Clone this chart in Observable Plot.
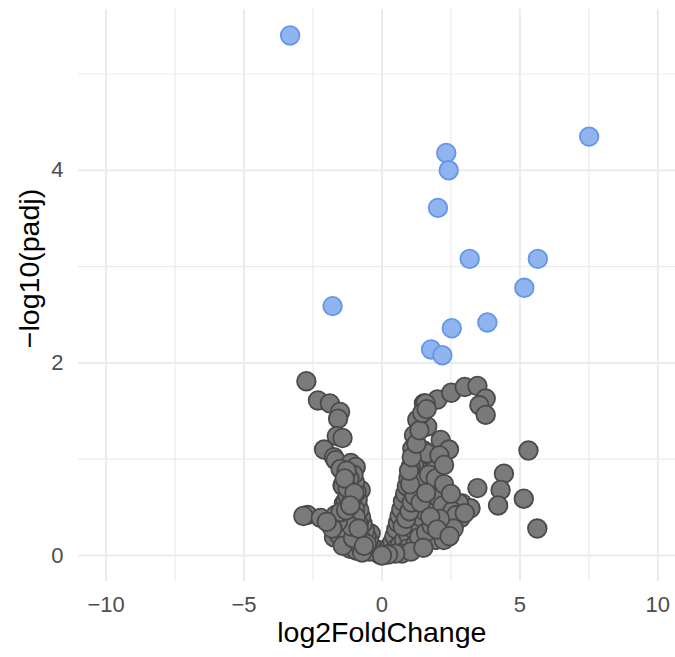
<!DOCTYPE html>
<html><head><meta charset="utf-8">
<script src="https://cdn.jsdelivr.net/npm/d3@7"></script>
<script src="https://cdn.jsdelivr.net/npm/@observablehq/plot@0.6"></script>
<style>html,body{margin:0;padding:0;background:#fff}</style>
</head><body><div id="chart"></div>
<script>
// Non-significant genes (grey)
const greyLog2FC = [
-2.74,-2.32,-1.89,-1.52,-1.59,-1.64,-1.43,-2.10,-1.74,-1.68,-1.13,-0.95,-1.50,-1.43,-1.07,-0.77,-1.38,-0.89,-2.70,-2.85,-2.22,-1.68,-1.86,-1.62,-1.13,-1.32,-1.01,-0.53,-0.77,-0.41,-1.74,-1.32,-1.41,
1.52,2.01,2.51,3.00,3.46,3.76,3.53,3.76,1.40,1.64,1.16,2.13,2.43,1.10,1.52,1.28,1.88,5.31,4.42,4.30,3.46,4.21,5.14,5.63,2.91,3.21,2.85,1.16,1.88,1.04,1.52,2.01,2.37,2.79,1.88,2.37,2.01,1.16,0.50,-0.17,1.52,0.79,2.01,1.64,1.04,1.28,2.37,1.95,2.24,1.58,
-0.08,-0.18,-0.28,-0.38,-0.48,-0.56,-0.62,-0.70,-0.76,-0.82,-0.88,-0.92,-0.98,-1.03,-0.45,-0.60,-0.68,-0.80,-0.90,-1.00,-1.08,-1.18,-1.24,-1.18,-1.28,-1.35,-1.46,-1.55,-1.25,-1.15,-0.92,-0.72,-1.42,-1.05,-0.98,-1.10,-1.20,-0.85,-0.55,
-1.25,-1.35,-1.00,-0.95,-1.10,-0.65,-1.60,-1.50,-1.80,-2.00,-1.30,-1.15,-0.85,
0.06,0.14,0.22,0.30,0.38,0.45,0.52,0.58,0.64,0.70,0.76,0.84,0.90,0.96,0.35,0.50,0.65,0.80,0.95,1.10,1.25,1.40,1.55,1.70,1.85,2.05,2.20,2.55,2.70,3.00,2.60,0.92,1.20,1.35,1.60,1.80,2.10,0.75,0.88,1.00,1.08,1.18,1.30,1.02,0.98,1.08,1.25,1.36,1.46,1.62,1.70,1.95,2.25,2.50,2.08,2.25,0.72,1.05,1.50,0.48,0.22,0.00,1.40,1.60,1.75,2.00,2.45
];
const greyNegLog10Padj = [
1.81,1.61,1.58,1.49,1.42,1.24,1.22,1.10,1.02,0.99,0.96,0.92,0.90,0.73,0.71,0.68,0.54,0.52,0.42,0.41,0.39,0.42,0.32,0.25,0.25,0.16,0.11,0.06,0.13,0.23,0.19,0.56,0.72,
1.58,1.62,1.69,1.75,1.76,1.63,1.56,1.46,1.41,1.34,1.25,1.20,1.10,1.11,1.09,1.02,0.99,1.09,0.85,0.68,0.70,0.52,0.59,0.28,0.54,0.49,0.39,0.94,0.90,0.66,0.73,0.70,0.59,0.54,0.47,0.37,0.18,0.14,0.06,0.06,0.30,0.44,0.92,1.06,0.92,1.41,0.33,0.16,0.16,1.58,
0.01,0.03,0.06,0.10,0.15,0.20,0.26,0.33,0.40,0.47,0.58,0.66,0.76,0.84,0.04,0.08,0.14,0.19,0.26,0.34,0.42,0.48,0.62,0.80,0.88,0.36,0.30,0.21,0.22,0.07,0.05,0.03,0.10,0.18,0.48,0.58,0.35,0.33,0.12,
0.70,0.80,0.65,0.40,0.30,0.10,0.35,0.45,0.28,0.35,0.47,0.52,0.28,
0.01,0.03,0.06,0.10,0.14,0.20,0.27,0.34,0.41,0.48,0.56,0.64,0.72,0.80,0.03,0.07,0.11,0.16,0.22,0.28,0.34,0.40,0.46,0.53,0.58,0.60,0.52,0.46,0.42,0.44,0.28,0.07,0.11,0.19,0.24,0.31,0.38,0.30,0.38,0.46,0.55,0.62,0.76,0.74,0.88,1.02,1.16,1.30,1.48,1.52,0.84,0.80,0.74,0.64,1.04,0.94,0.02,0.04,0.08,0.02,0.01,0.00,0.55,0.65,0.40,0.27,0.20
];
// Significant genes (blue)
const sigLog2FC = [-3.33,7.51,2.33,2.42,2.03,3.18,5.65,5.16,-1.79,3.82,2.53,1.78,2.19];
const sigNegLog10Padj = [5.40,4.35,4.18,4.00,3.61,3.08,3.08,2.78,2.59,2.42,2.36,2.14,2.08];

const xTicks = [-10,-5,0,5,10];
const xMinorTicks = [-7.5,-2.5,2.5,7.5];
const yTicks = [0,2,4];
const yMinorTicks = [1,3,5];
const xTitle = "log2FoldChange";
const yTitle = "\u2212log10(padj)";

const grey = greyLog2FC.map((x,i)=>({x, y: greyNegLog10Padj[i]}));
const sig = sigLog2FC.map((x,i)=>({x, y: sigNegLog10Padj[i]}));
const fmt = d => d < 0 ? "\u2212" + Math.abs(d) : String(d);
const gridCol = "#ebebeb";

const chart = Plot.plot({
  width: 675, height: 657,
  marginLeft: 78, marginRight: 0, marginTop: 9, marginBottom: 76,
  style: {fontFamily: "'Liberation Sans', Arial, Helvetica, sans-serif", background: "#fff"},
  x: {domain: [-11, 10.64]},
  y: {domain: [-0.27, 5.67]},
  marks: [
    Plot.ruleX(xMinorTicks, {stroke: gridCol, strokeWidth: 1.2}),
    Plot.ruleY(yMinorTicks, {stroke: gridCol, strokeWidth: 1.2}),
    Plot.ruleX(xTicks, {stroke: gridCol, strokeWidth: 2}),
    Plot.ruleY(yTicks, {stroke: gridCol, strokeWidth: 2}),
    Plot.axisX({ticks: xTicks, tickFormat: fmt, tickSize: 0, tickPadding: 15, fontSize: 22, fill: "#4d4d4d", label: null}),
    Plot.axisY({ticks: yTicks, tickFormat: fmt, tickSize: 0, tickPadding: 15, fontSize: 22, fill: "#4d4d4d", label: null}),
    Plot.text([xTitle], {frameAnchor: "bottom", dy: 60, dx: 4.8, fontSize: 28.5, fill: "#000"}),
    Plot.text([yTitle], {frameAnchor: "left", textAnchor: "middle", dx: -49, dy: -27, rotate: -90, fontSize: 28.5, fill: "#000"}),
    Plot.dot(grey, {x: "x", y: "y", r: 9.3, fill: "#7a7a7a", stroke: "#4a4a4a", strokeWidth: 1.8}),
    Plot.dot(sig, {x: "x", y: "y", r: 9.3, fill: "#8fb4ef", stroke: "#6495ed", strokeWidth: 1.8})
  ]
});
document.getElementById("chart").appendChild(chart);
</script>
</body></html>
